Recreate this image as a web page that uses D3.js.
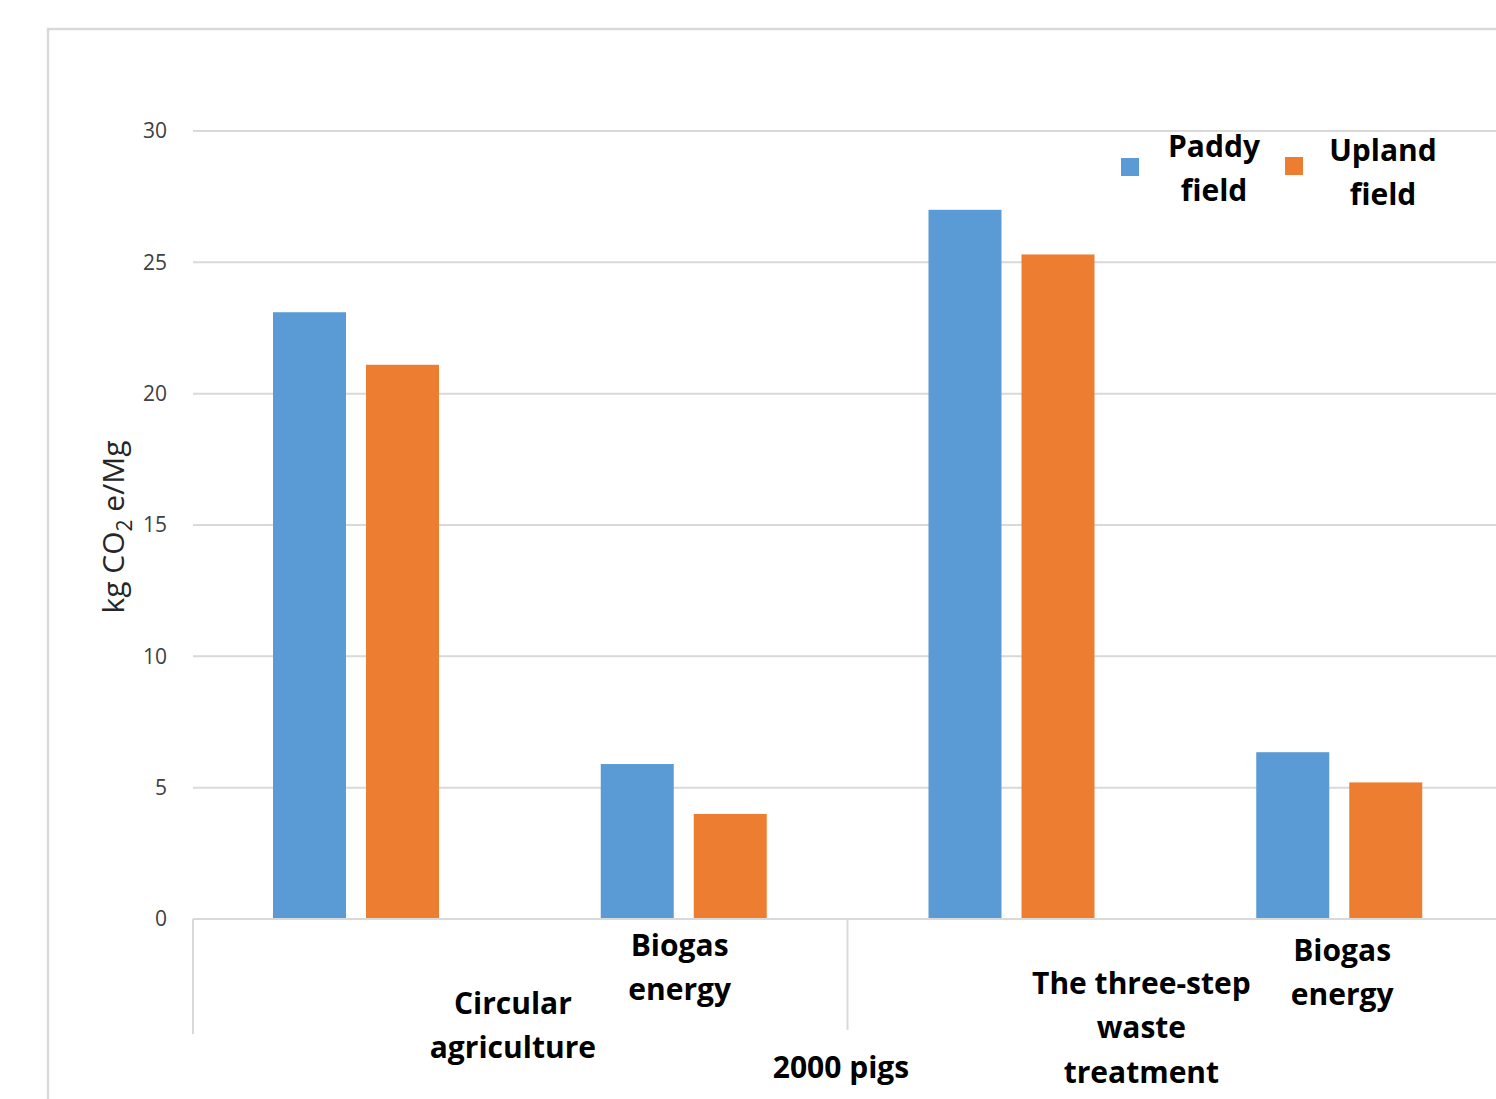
<!DOCTYPE html>
<html>
<head>
<meta charset="utf-8">
<script src="https://cdn.jsdelivr.net/npm/d3@7"></script>
<style>
html,body{margin:0;padding:0;background:#fff;overflow:hidden;}
svg{display:block;}
</style>
</head>
<body>
<script>
// ---- data ----
const categories = ["Circular agriculture", "Biogas energy", "The three-step waste treatment", "Biogas energy"];
const categoryLines = [["Circular", "agriculture"], ["Biogas", "energy"], ["The three-step", "waste", "treatment"], ["Biogas", "energy"]];
const groupLabel = "2000 pigs";
const seriesNames = ["Paddy field", "Upland field"];
const legendLines = [["Paddy", "field"], ["Upland", "field"]];
const paddyValues = [23.1, 5.9, 27.0, 6.35];
const uplandValues = [21.1, 4.0, 25.3, 5.2];
const yTicks = [0, 5, 10, 15, 20, 25, 30];
const colors = ["#5B9BD5", "#ED7D31"];

const W = 1496, H = 1099;
const svg = d3.select("body").append("svg").attr("width", W).attr("height", H);

// outer chart border
svg.append("path")
  .attr("d", `M48,${H} L48,29 L${W},29`)
  .attr("fill", "none").attr("stroke", "#d9d9d9").attr("stroke-width", 2.5);

const plotLeft = 193, plotRight = 193 + 4 * 327.75, yTop = 131, yBottom = 919;

const y = d3.scaleLinear().domain([0, 30]).range([yBottom, yTop]);
const x0 = d3.scaleBand().domain(d3.range(categories.length)).range([plotLeft, plotRight]).padding(0);
const x1 = d3.scaleBand().domain(seriesNames).range([80, 246]).paddingInner(20 / 93).paddingOuter(0);

// gridlines
svg.append("g").selectAll("line").data(yTicks.filter(d => d > 0)).join("line")
  .attr("x1", plotLeft).attr("x2", W)
  .attr("y1", d => y(d)).attr("y2", d => y(d))
  .attr("stroke", "#d9d9d9").attr("stroke-width", 2);

// y axis labels
const yAxis = d3.axisLeft(y).tickValues(yTicks).tickSize(0).tickPadding(26);
const yg = svg.append("g").attr("transform", `translate(${plotLeft},0)`).call(yAxis);
yg.select(".domain").remove();
yg.selectAll("text").attr("font-family", "'Open Sans', sans-serif").attr("font-size", 21).attr("fill", "#404040");

// y axis title
const yt = svg.append("text")
  .attr("transform", `translate(124,527) rotate(-90)`)
  .attr("text-anchor", "middle")
  .attr("font-family", "'Open Sans', sans-serif").attr("font-size", 30).attr("fill", "#262626");
yt.append("tspan").text("kg CO");
yt.append("tspan").attr("font-size", 21).attr("dy", 8).text("2");
yt.append("tspan").attr("dy", -8).text(" e/Mg");

// bars
const rows = categories.map((c, i) => ({i, vals: [paddyValues[i], uplandValues[i]]}));
const grp = svg.append("g").selectAll("g").data(rows).join("g")
  .attr("transform", d => `translate(${x0(d.i)},0)`);
grp.selectAll("rect").data(d => d.vals.map((v, k) => ({k, v}))).join("rect")
  .attr("x", d => x1(seriesNames[d.k]))
  .attr("width", x1.bandwidth())
  .attr("y", d => y(d.v))
  .attr("height", d => y(0) - y(d.v))
  .attr("fill", d => colors[d.k]);

// x axis line
svg.append("line").attr("x1", plotLeft).attr("x2", W).attr("y1", yBottom).attr("y2", yBottom)
  .attr("stroke", "#d9d9d9").attr("stroke-width", 2);
// category separators
const sepX = x0(2) - 1;
svg.append("line").attr("x1", plotLeft).attr("x2", plotLeft).attr("y1", yBottom).attr("y2", 1034)
  .attr("stroke", "#d9d9d9").attr("stroke-width", 2);
svg.append("line").attr("x1", sepX).attr("x2", sepX).attr("y1", yBottom).attr("y2", 1030)
  .attr("stroke", "#d9d9d9").attr("stroke-width", 2);

// category labels (positions as in the original, Excel-like wrapping)
const labelDx = [156, -5, 129, 2];
const labelTop = [1003, 945, 983, 950];
const lineH = 44.5;
const fontBold = "'Open Sans', 'Noto Sans', sans-serif";
const fs = 30;
categoryLines.forEach((lines, i) => {
  const cx = x0(i) + x0.bandwidth() / 2 + labelDx[i];
  const t = svg.append("text").attr("text-anchor", "middle")
    .attr("font-family", fontBold).attr("font-weight", 700).attr("font-size", fs).attr("fill", "#000");
  lines.forEach((ln, j) => {
    t.append("tspan").attr("x", cx).attr("y", labelTop[i] + j * lineH).attr("dy", "0.35em").text(ln);
  });
});
svg.append("text").attr("x", 841).attr("y", 1067).attr("dy", "0.35em").attr("text-anchor", "middle")
  .attr("font-family", fontBold).attr("font-weight", 700).attr("font-size", fs).attr("fill", "#000")
  .text(groupLabel);

// legend
const legX = [1121, 1285], legTextX = [1214, 1383], legY = [146, 150];
seriesNames.forEach((s, k) => {
  svg.append("rect").attr("x", legX[k]).attr("y", 158 - k).attr("width", 18).attr("height", 18).attr("fill", colors[k]);
  const t = svg.append("text").attr("text-anchor", "middle")
    .attr("font-family", fontBold).attr("font-weight", 700).attr("font-size", fs).attr("fill", "#000");
  legendLines[k].forEach((ln, j) => {
    t.append("tspan").attr("x", legTextX[k]).attr("y", legY[k] + j * 44).attr("dy", "0.35em").text(ln);
  });
});
</script>
</body>
</html>
